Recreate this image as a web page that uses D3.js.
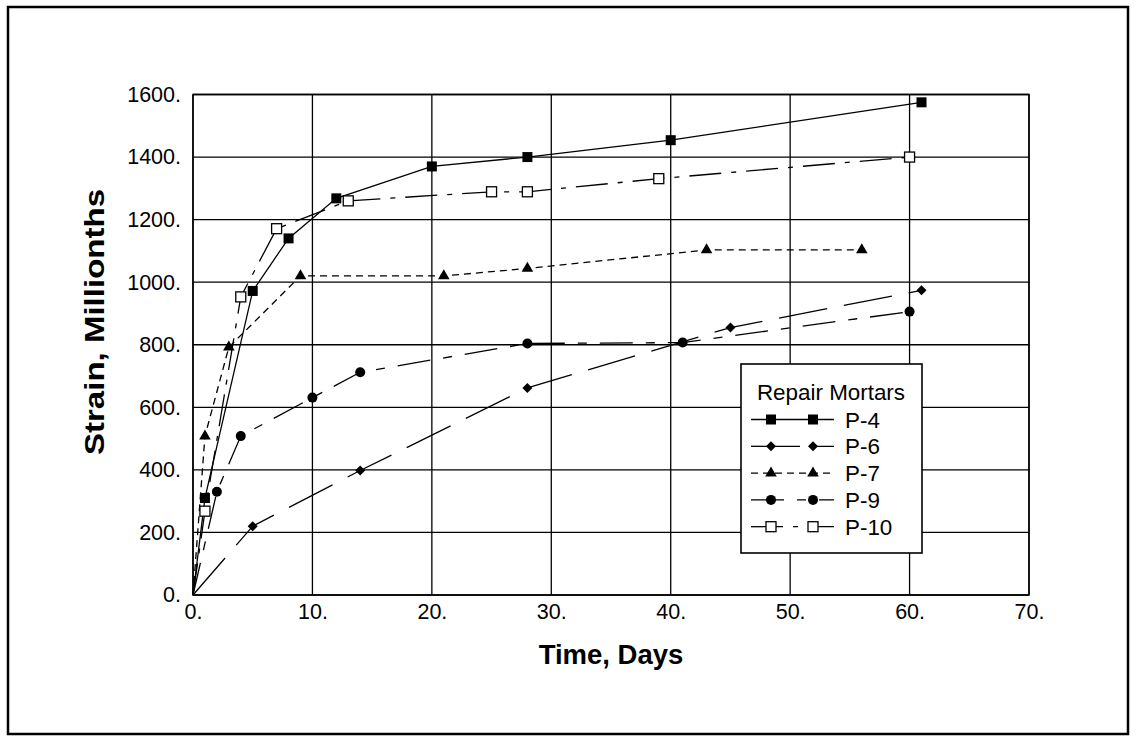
<!DOCTYPE html>
<html>
<head>
<meta charset="utf-8">
<script src="https://cdn.jsdelivr.net/npm/d3@7"></script>
<style>
  html, body { margin: 0; padding: 0; background: #fff; }
  svg { display: block; font-family: "Liberation Sans", Arial, sans-serif; }
</style>
</head>
<body>
<svg id="chart" width="1141" height="753"></svg>
<script>
// ---- data ----
const xTicks = [0, 10, 20, 30, 40, 50, 60, 70];
const yTicks = [0, 200, 400, 600, 800, 1000, 1200, 1400, 1600];

const p4Days  = [0, 1, 5, 8, 12, 20, 28, 40, 61];
const p4Vals  = [0, 310, 972, 1140, 1268, 1370, 1400, 1454, 1575];

const p6Days  = [0, 5, 14, 28, 45, 61];
const p6Vals  = [0, 220, 398, 662, 855, 974];

const p7Days  = [0, 1, 3, 9, 21, 28, 43, 56];
const p7Vals  = [0, 508, 792, 1020, 1020, 1044, 1103, 1103];

const p9Days  = [0, 2, 4, 10, 14, 28, 41, 60];
const p9Vals  = [0, 330, 508, 631, 712, 804, 807, 906];

const p10Days = [0, 1, 4, 7, 13, 25, 28, 39, 60];
const p10Vals = [0, 268, 953, 1171, 1260, 1289, 1289, 1331, 1400];

const seriesNames = ["P-4", "P-6", "P-7", "P-9", "P-10"];
const legendTitle = "Repair Mortars";
const xTitle = "Time, Days";
const yTitle = "Strain, Millionths";

// ---- styles ----
const styles = {
  "P-4":  { dash: null,          marker: "sqFill" },
  "P-6":  { dash: "49,17",       marker: "diamond" },
  "P-7":  { dash: "7,5",         marker: "tri" },
  "P-9":  { dash: "33,13,9,13",  marker: "circle" },
  "P-10": { dash: "32,10,5,10",  marker: "sqOpen" }
};

const series = [
  { name: "P-4",  days: p4Days,  vals: p4Vals },
  { name: "P-6",  days: p6Days,  vals: p6Vals },
  { name: "P-7",  days: p7Days,  vals: p7Vals },
  { name: "P-9",  days: p9Days,  vals: p9Vals },
  { name: "P-10", days: p10Days, vals: p10Vals }
].map(s => ({ name: s.name, pts: s.days.map((d, i) => ({ x: d, y: s.vals[i] })) }));

// ---- layout ----
const svg = d3.select("#chart");
const L = 193, R = 1029, T = 94.5, B = 595;
const x = d3.scaleLinear().domain([0, 70]).range([L, R]);
const y = d3.scaleLinear().domain([0, 1600]).range([B, T]);

// outer frame
svg.append("rect").attr("x", 8).attr("y", 7).attr("width", 1120).attr("height", 727)
  .attr("fill", "none").attr("stroke", "#000").attr("stroke-width", 2.5);

// gridlines
const g = svg.append("g");
g.selectAll("line.gx").data(xTicks).enter().append("line")
  .attr("x1", d => x(d)).attr("x2", d => x(d)).attr("y1", T).attr("y2", B)
  .attr("stroke", "#000").attr("stroke-width", 1.3);
g.selectAll("line.gy").data(yTicks).enter().append("line")
  .attr("x1", L).attr("x2", R).attr("y1", d => y(d)).attr("y2", d => y(d))
  .attr("stroke", "#000").attr("stroke-width", 1.3);
g.append("rect").attr("x", L).attr("y", T).attr("width", R - L).attr("height", B - T)
  .attr("fill", "none").attr("stroke", "#000").attr("stroke-width", 1.5);

// axes (labels only, via d3 axis)
const fmt = d => d + ".";
const xAxis = svg.append("g").attr("transform", `translate(0,${B})`)
  .call(d3.axisBottom(x).tickValues(xTicks).tickFormat(fmt).tickSize(0).tickPadding(9));
const yAxis = svg.append("g").attr("transform", `translate(${L},0)`)
  .call(d3.axisLeft(y).tickValues(yTicks).tickFormat(fmt).tickSize(0).tickPadding(12));
[xAxis, yAxis].forEach(a => {
  a.select(".domain").remove();
  a.selectAll("text").attr("font-size", 21.5).attr("fill", "#000")
    .attr("font-family", "'Liberation Sans', Arial, sans-serif");
});

// axis titles
svg.append("text").attr("x", (L + R) / 2).attr("y", 664).attr("text-anchor", "middle")
  .attr("font-size", 27.5).attr("font-weight", "bold").text(xTitle);
svg.append("text").attr("transform", `translate(104,322) rotate(-90)`)
  .attr("text-anchor", "middle").attr("font-size", 27.5).attr("font-weight", "bold")
  .attr("textLength", 266).attr("lengthAdjust", "spacingAndGlyphs").text(yTitle);

// markers
function drawMarker(sel, type, cx, cy) {
  if (type === "sqFill") {
    sel.append("rect").attr("x", cx - 5).attr("y", cy - 5).attr("width", 10).attr("height", 10).attr("fill", "#000");
  } else if (type === "sqOpen") {
    sel.append("rect").attr("x", cx - 5).attr("y", cy - 5).attr("width", 10).attr("height", 10)
      .attr("fill", "#fff").attr("stroke", "#000").attr("stroke-width", 1.3);
  } else if (type === "tri") {
    sel.append("path").attr("d", d3.symbol(d3.symbolTriangle, 58)()).attr("transform", `translate(${cx},${cy})`).attr("fill", "#000");
  } else if (type === "circle") {
    sel.append("circle").attr("cx", cx).attr("cy", cy).attr("r", 5).attr("fill", "#000");
  } else if (type === "diamond") {
    sel.append("path").attr("d", "M0,-5L5,0L0,5L-5,0Z").attr("transform", `translate(${cx},${cy})`).attr("fill", "#000");
  }
}

// lines
const line = d3.line().x(d => x(d.x)).y(d => y(d.y));
const plot = svg.append("g");
series.forEach(s => {
  const st = styles[s.name];
  plot.append("path").datum(s.pts).attr("d", line).attr("fill", "none")
    .attr("stroke", "#000").attr("stroke-width", 1.3)
    .attr("stroke-dasharray", st.dash);
});
series.forEach(s => {
  const st = styles[s.name];
  const mg = plot.append("g");
  s.pts.filter(p => p.x > 0).forEach(p => drawMarker(mg, st.marker, x(p.x), y(p.y)));
});

// legend
const lg = svg.append("g");
lg.append("rect").attr("x", 741).attr("y", 364).attr("width", 181).attr("height", 189)
  .attr("fill", "#fff").attr("stroke", "#000").attr("stroke-width", 1.6);
lg.append("text").attr("x", 831).attr("y", 400).attr("text-anchor", "middle")
  .attr("font-size", 22.4).text(legendTitle);
seriesNames.forEach((n, i) => {
  const yy = 419.5 + i * 26.8;
  const st = styles[n];
  lg.append("line").attr("x1", 751).attr("x2", 834).attr("y1", yy).attr("y2", yy)
    .attr("stroke", "#000").attr("stroke-width", 1.3).attr("stroke-dasharray", st.dash);
  drawMarker(lg, st.marker, 771, yy);
  drawMarker(lg, st.marker, 813, yy);
  lg.append("text").attr("x", 845).attr("y", yy + 8).attr("font-size", 22.4).text(n);
});
</script>
</body>
</html>
